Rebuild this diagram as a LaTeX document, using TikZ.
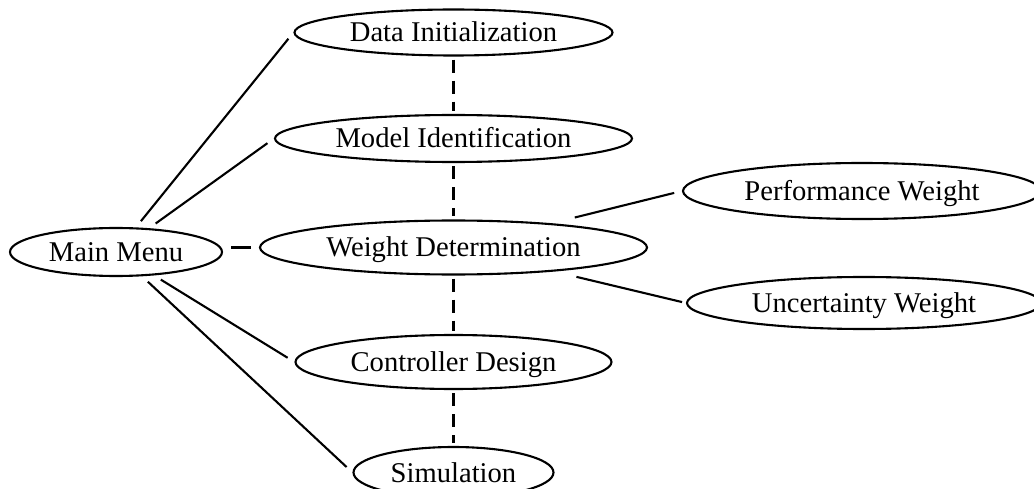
\documentclass[tikz,border=0pt]{standalone}
\usepackage{fontspec}
\setmainfont{Liberation Serif}
\usetikzlibrary{shapes.geometric}
\tikzset{
  menu/.style={draw, ellipse, line width=2.1pt, inner sep=0pt,
    font=\fontsize{28.6}{34}\selectfont, text height=19pt, text depth=0pt},
  link/.style={line width=2.1pt, shorten <=8pt, shorten >=8pt},
  seq/.style={line width=2.1pt, dash pattern=on 13pt off 8pt, shorten <=3pt, shorten >=3pt}
}
\begin{document}
\begin{tikzpicture}[x=1pt, y=-1pt]
  \useasboundingbox (0,0) rectangle (1034,489);
  \clip (0,0) rectangle (1034,489);

  % menu entries
  \node[menu, minimum width=212pt, minimum height=48pt] (mm)  at (116,252)   {Main Menu};
  \node[menu, minimum width=318pt, minimum height=46pt] (di)  at (453.5,32.5) {Data Initialization};
  \node[menu, minimum width=357pt, minimum height=47pt] (mi)  at (453.5,138.5) {Model Identification};
  \node[menu, minimum width=387pt, minimum height=54pt] (wd)  at (453.5,247.5) {Weight Determination};
  \node[menu, minimum width=316pt, minimum height=54pt] (cd)  at (453.5,362)   {Controller Design};
  \node[menu, minimum width=200pt, minimum height=51pt] (sim) at (453.5,472.5) {Simulation};
  \node[menu, minimum width=358pt, minimum height=56pt] (pw)  at (862,191)   {Performance Weight};
  \node[menu, minimum width=354pt, minimum height=52pt] (uw)  at (864,303)   {Uncertainty Weight};

  % main menu branches
  \draw[link] (mm) -- (di.west);
  \draw[link] (mm) -- (mi.west);
  \draw[link] (mm.east |- wd.west) -- (wd.west);
  \draw[link] (mm) -- (cd.west);
  \draw[link] (mm) -- (sim.west);

  % sequence of steps
  \draw[seq] (di) -- (mi);
  \draw[seq] (mi) -- (wd);
  \draw[seq] (wd) -- (cd);
  \draw[seq] (cd) -- (sim);

  % weight sub-entries
  \draw[line width=2.1pt, shorten <=24pt, shorten >=8pt] (wd) -- (pw.west);
  \draw[line width=2.1pt, shorten <=23pt, shorten >=4pt] (wd) -- (uw.west);
\end{tikzpicture}
\end{document}
